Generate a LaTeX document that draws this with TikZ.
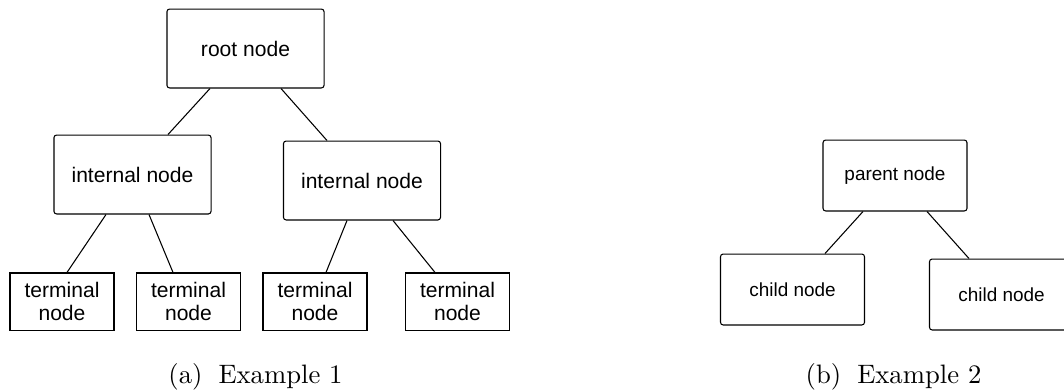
\documentclass[tikz,border=0pt]{standalone}
\usepackage{fontspec}
\newfontfamily\helv{Liberation Sans}
\usetikzlibrary{calc}
\tikzstyle{intnode}=[draw,rounded corners=1pt,minimum width=58.9pt,minimum height=29.6pt,inner sep=0pt,font=\helv\fontsize{7.9}{8.6}\selectfont]
\tikzstyle{leafnode}=[draw,minimum width=39pt,minimum height=21.4pt,inner sep=0pt,align=center,font=\helv\fontsize{7.9}{8.6}\selectfont]
\tikzstyle{smallnode}=[draw,rounded corners=1pt,minimum width=54pt,minimum height=26.6pt,inner sep=0pt,font=\helv\fontsize{7.1}{8.5}\selectfont]

\begin{document}
\begin{tikzpicture}[x=0.375pt,y=-0.375pt]
\useasboundingbox (0,0) rectangle (1064,391);

\node[intnode] at (245.5,48.5) (root) {root node};
\node[intnode] at (132.5,174.5) (intl) {internal node};
\node[intnode] at (362,180.5) (intr) {internal node};
\node[leafnode] at (62,301.5) (t1) {terminal\\node};
\node[leafnode] at (188.5,301.5) (t2) {terminal\\node};
\node[leafnode] at (315,301.5) (t3) {terminal\\node};
\node[leafnode] at (457.5,301.5) (t4) {terminal\\node};

\draw ($(root.south)+(-35.5,0)$) -- ($(intl.north)+(35.5,0)$);
\draw ($(root.south)+(35.5,0)$) -- ($(intr.north)+(-35,0)$);
\draw ($(intl.south)+(-26.5,0)$) -- ($(t1.north)+(5,0)$);
\draw ($(intl.south)+(16.5,0)$) -- ($(t2.north)+(-15.5,0)$);
\draw ($(intr.south)+(-15,0)$) -- ($(t3.north)+(11,0)$);
\draw ($(intr.south)+(31,0)$) -- ($(t4.north)+(-22.5,0)$);

\node[anchor=base] at (255.5,383) (capa) {(a)\hspace{6pt}Example 1};

\node[smallnode] at (895,175.5) (parent) {parent node};
\node[smallnode] at (792.5,289.5) (childl) {child node};
\node[smallnode] at (1001.5,294.5) (childr) {child node};

\draw ($(parent.south)+(-32,0)$) -- ($(childl.north)+(32.5,0)$);
\draw ($(parent.south)+(32,0)$) -- ($(childr.north)+(-32.5,0)$);

\node[anchor=base] at (893.5,383) (capb) {(b)\hspace{6pt}Example 2};
\end{tikzpicture}
\end{document}
